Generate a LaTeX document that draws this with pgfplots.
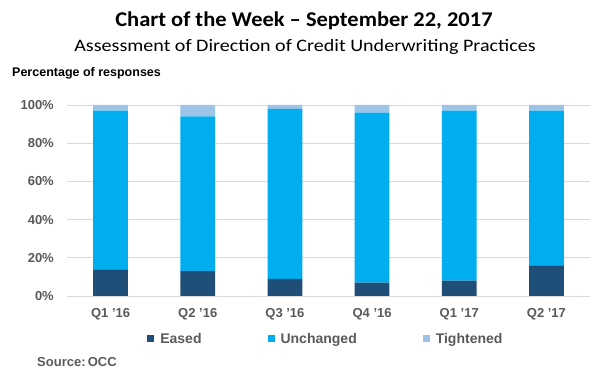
\documentclass[border=0pt]{standalone}
\usepackage{pgfplots}
\pgfplotsset{compat=1.18}
\usepackage{graphicx}
\usepackage{fontspec}
\setmainfont{Liberation Sans}
\newfontfamily\carlito{Carlito}
\definecolor{eased}{HTML}{1F4E79}
\definecolor{unch}{HTML}{00AEEF}
\definecolor{tight}{HTML}{9DC3E6}
\definecolor{txt}{HTML}{595959}
\definecolor{gridc}{HTML}{D9D9D9}
\begin{document}
\begin{tikzpicture}[x=1pt,y=1pt]
\path[use as bounding box] (0,0) rectangle (600,380);
\node[anchor=base,inner sep=0pt] at (304,353.3) {\scalebox{1.07}[1]{\carlito\bfseries\fontsize{21}{24}\selectfont Chart of the Week \textendash{} September 22, 2017}};
\node[anchor=base,inner sep=0pt] at (305,328.3) {\scalebox{1.147}[1]{\carlito\fontsize{17.5}{21}\selectfont Assessment of Direction of Credit Underwriting Practices}};
\node[anchor=base west,inner sep=0pt] at (12,303) {\bfseries\fontsize{12.5}{15}\selectfont Percentage of responses};
\node[anchor=base west,inner sep=0pt,text=txt] at (37,13) {\bfseries\fontsize{13}{15}\selectfont Source:\,OCC};
\begin{axis}[
  at={(67pt,84pt)}, anchor=south west,
  scale only axis, width=523pt, height=191pt,
  ybar stacked, bar width=34.7pt,
  xmin=-0.5, xmax=5.5, ymin=0, ymax=100,
  axis line style={draw=none},
  major tick length=0pt,
  ytick={0,20,40,60,80,100},
  yticklabel={\pgfmathprintnumber{\tick}\%},
  ymajorgrids, grid style={gridc, line width=0.8pt},
  xtick={0,1,2,3,4,5},
  xticklabels={Q1 '16,Q2 '16,Q3 '16,Q4 '16,Q1 '17,Q2 '17},
  tick label style={font=\bfseries\fontsize{13}{15}\selectfont, text=txt},
  /pgf/number format/assume math mode=true,
  yticklabel style={inner sep=0pt, anchor=east, xshift=-13pt},
  xticklabel style={inner sep=0pt, anchor=north, yshift=-12pt},
  legend style={at={(0.495,-0.225)}, anchor=center, draw=none, fill=none,
    legend columns=3, font=\bfseries\fontsize{14}{16}\selectfont, text=txt,
    /tikz/every odd column/.append style={column sep=4pt},
    /tikz/every even column/.append style={column sep=64pt},
    inner sep=0pt},
  legend image code/.code={\fill[#1] (0pt,-3.5pt) rectangle (7pt,3.5pt);},
]
\addplot[fill=eased, draw=none] coordinates {(0,14) (1,13) (2,9) (3,7) (4,8) (5,16)};
\addplot[fill=unch, draw=none] coordinates {(0,83) (1,81) (2,89) (3,89) (4,89) (5,81)};
\addplot[fill=tight, draw=none] coordinates {(0,3) (1,6) (2,2) (3,4) (4,3) (5,3)};
\legend{Eased,Unchanged,Tightened}
\end{axis}
\end{tikzpicture}
\end{document}
